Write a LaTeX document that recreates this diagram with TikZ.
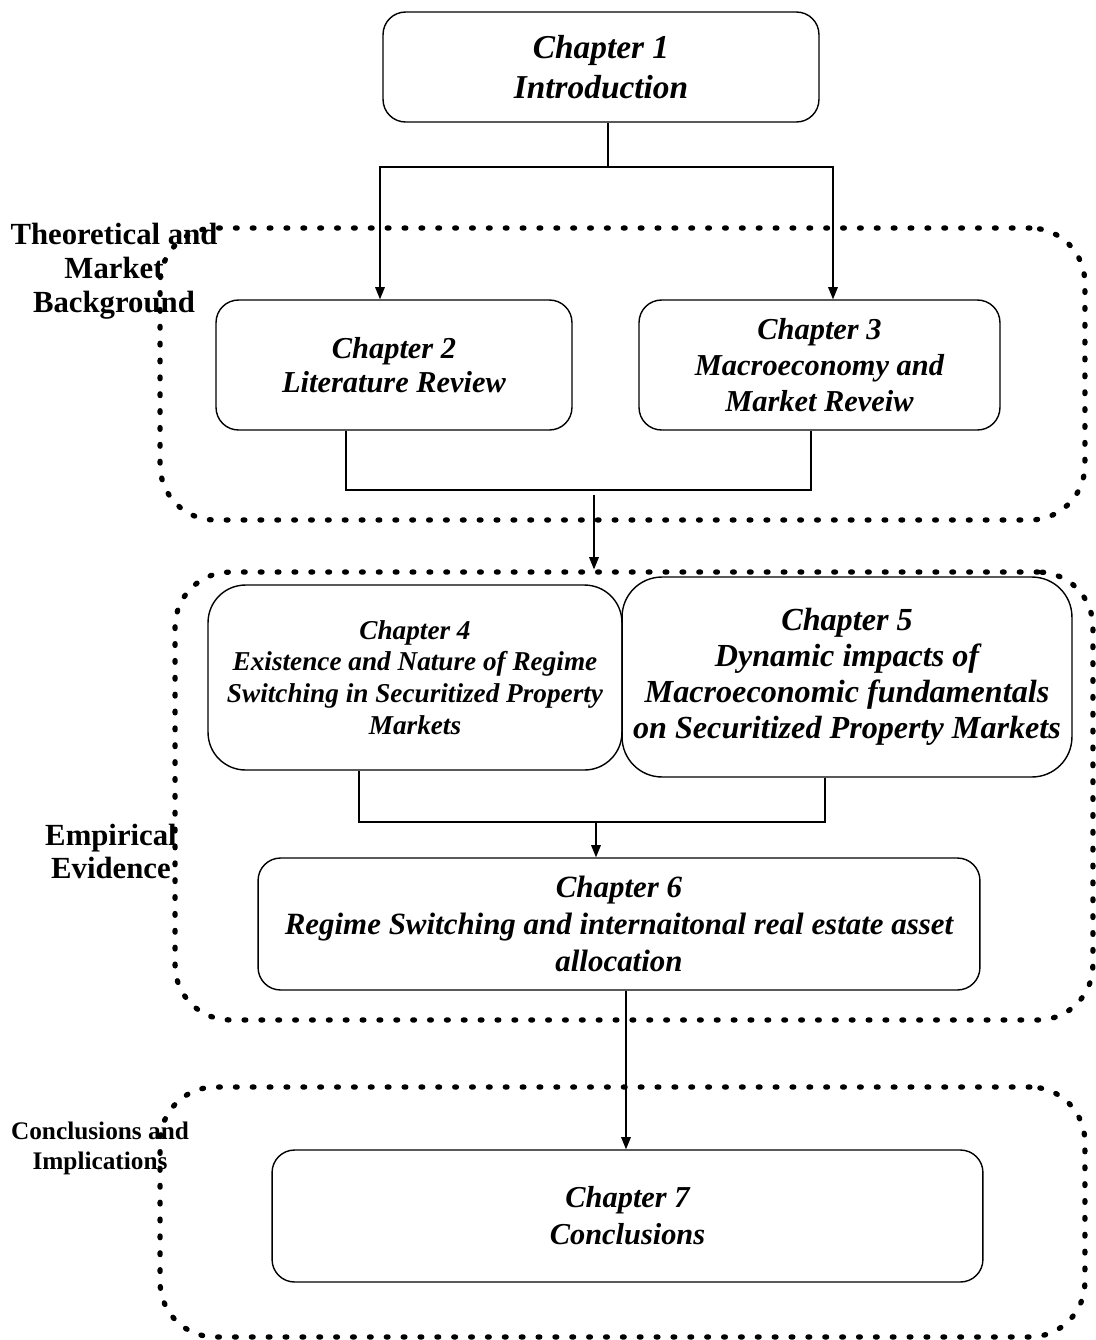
\documentclass[tikz,border=0pt]{standalone}
\usepackage{fontspec}
\setmainfont{Liberation Serif}
\usetikzlibrary{arrows.meta}
\begin{document}
\begin{tikzpicture}[x=0.02cm,y=-0.02cm,
  chapbox/.style={draw,line width=0.8pt,rounded corners=0.45cm,align=center,inner sep=0pt,font=\bfseries\itshape},
  grpbox/.style={draw,line width=3pt,line cap=round,dash pattern=on 1pt off 8.6pt,rounded corners=1.1cm,inner sep=0pt},
  grplabel/.style={align=center,inner sep=0pt,font=\bfseries},
  conn/.style={line width=0.8pt},
  arr/.style={line width=0.8pt,-{Triangle[length=7pt,width=5.5pt]}}]
\useasboundingbox (0,0) rectangle (1096,1340);
% groups
\node[grpbox,minimum width=18.5cm,minimum height=5.84cm] (grp1) at (622.5,374) {};
\node[grpbox,minimum width=18.36cm,minimum height=8.96cm] (grp2) at (634,796) {};
\node[grpbox,minimum width=18.5cm,minimum height=5.0cm] (grp3) at (622.5,1212) {};
% group labels
\node[grplabel,font=\bfseries\fontsize{17.5}{19.3}\selectfont] (lab1) at (114,271) {Theoretical and\\Market\\Background};
\node[grplabel,font=\bfseries\fontsize{17.5}{18.8}\selectfont] (lab2) at (111,851) {Empirical\\Evidence};
\node[grplabel,font=\bfseries\fontsize{14.4}{17}\selectfont] (lab3) at (100,1148) {Conclusions and\\Implications};
% chapters
\node[chapbox,minimum width=8.72cm,minimum height=2.2cm,font=\bfseries\itshape\fontsize{19}{22.7}\selectfont] (ch1) at (601,67) {Chapter 1\\Introduction};
\node[chapbox,minimum width=7.12cm,minimum height=2.6cm,font=\bfseries\itshape\fontsize{17.3}{19.3}\selectfont] (ch2) at (394,365) {Chapter 2\\Literature Review};
\node[chapbox,minimum width=7.22cm,minimum height=2.6cm,font=\bfseries\itshape\fontsize{17.3}{20.4}\selectfont] (ch3) at (819.5,365) {Chapter 3\\Macroeconomy and\\Market Reveiw};
\node[chapbox,rounded corners=0.75cm,minimum width=8.28cm,minimum height=3.7cm,font=\bfseries\itshape\fontsize{15.5}{18.1}\selectfont] (ch4) at (415,677.5) {Chapter 4\\Existence and Nature of Regime\\Switching in Securitized Property\\Markets};
\node[chapbox,rounded corners=0.8cm,minimum width=9.0cm,minimum height=4.0cm,font=\bfseries\itshape\fontsize{18.3}{20.4}\selectfont] (ch5) at (847,677) {Chapter 5\\Dynamic impacts of\\Macroeconomic fundamentals\\on Securitized Property Markets};
\node[chapbox,minimum width=14.44cm,minimum height=2.64cm,font=\bfseries\itshape\fontsize{17.6}{21}\selectfont] (ch6) at (619,924) {Chapter 6\\Regime Switching and internaitonal real estate asset\\allocation};
\node[chapbox,minimum width=14.22cm,minimum height=2.64cm,font=\bfseries\itshape\fontsize{17.3}{21}\selectfont] (ch7) at (627.5,1216) {Chapter 7\\Conclusions};
% connectors
\coordinate (j1) at (608,167);
\coordinate (j1L) at (380,167);
\coordinate (j1R) at (833,167);
\draw[conn] (ch1.south -| j1) -- (j1);
\draw[arr] (j1) -- (j1L) -- (ch2.north -| j1L);
\draw[arr] (j1) -- (j1R) -- (ch3.north -| j1R);
\coordinate (b2L) at (346,490);
\coordinate (b2R) at (811,490);
\draw[conn] (ch2.south -| b2L) -- (b2L) -- (b2R) -- (ch3.south -| b2R);
\coordinate (a2) at (594,495);
\draw[arr] (a2) -- (grp2.north -| a2);
\coordinate (b3L) at (359,822);
\coordinate (b3R) at (825,822);
\draw[conn] (ch4.south -| b3L) -- (b3L) -- (b3R) -- (ch5.south -| b3R);
\coordinate (a3) at (596,822);
\draw[arr] (a3) -- (ch6.north -| a3);
\coordinate (a4) at (626,990);
\draw[arr] (ch6.south -| a4) -- (ch7.north -| a4);
\end{tikzpicture}
\end{document}
